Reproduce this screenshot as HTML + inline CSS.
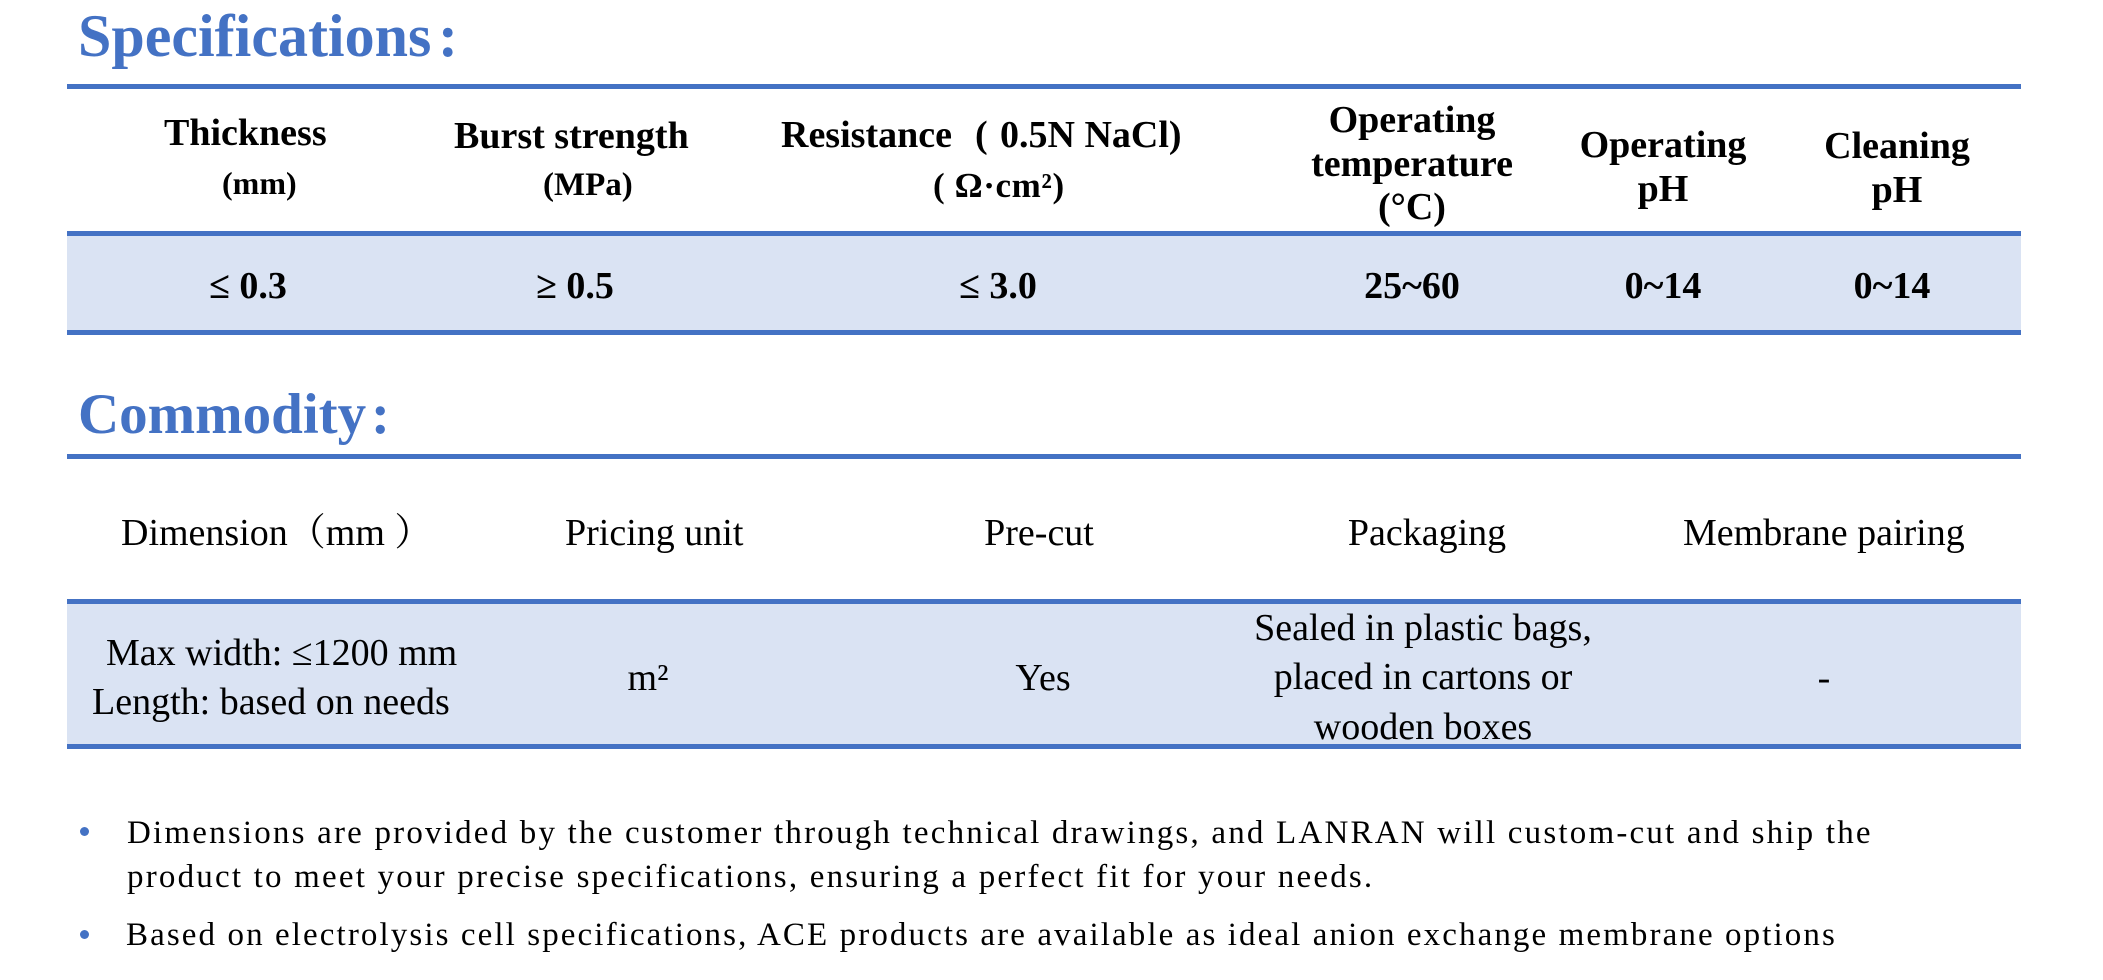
<!DOCTYPE html>
<html>
<head>
<meta charset="utf-8">
<style>
  html,body{margin:0;padding:0;background:#fff;}
  body{width:2103px;height:980px;position:relative;overflow:hidden;
       font-family:"Liberation Serif","Noto Serif CJK SC",serif;color:#000;}
  .t{position:absolute;white-space:nowrap;line-height:1;}
  .c{transform:translateX(-50%);text-align:center;}
  .b{font-weight:bold;}
  .h38{font-size:38px;}
  .line{position:absolute;left:67px;width:1954px;height:5px;background:#4472C4;}
  .bg{position:absolute;left:67px;width:1954px;background:#DAE3F3;}
  .title{font-weight:bold;color:#4472C4;}
  .ml{position:absolute;white-space:nowrap;text-align:center;transform:translateX(-50%);}
  .bul{position:absolute;width:9px;height:9px;border-radius:50%;background:#4472C4;}
  .p{font-size:33px;letter-spacing:2.2px;}
</style>
</head>
<body>

<!-- Specifications title -->
<div class="t title" style="left:78px;top:6px;font-size:60px;">Specifications</div>
<div class="t title" style="left:438px;top:6px;font-size:60px;">:</div>

<!-- Spec table -->
<div class="bg" style="top:236px;height:94px;"></div>
<div class="line" style="top:84px;"></div>
<div class="line" style="top:231px;"></div>
<div class="line" style="top:330px;height:5px;"></div>

<div class="t b h38" style="left:164px;top:114px;">Thickness</div>
<div class="t b" style="left:222px;top:167px;font-size:32px;">(mm)</div>

<div class="t b h38" style="left:454px;top:117px;">Burst strength</div>
<div class="t b" style="left:543px;top:168.5px;font-size:33px;">(MPa)</div>

<div class="t b h38" style="left:781px;top:116px;">Resistance</div>
<div class="t b h38" style="left:975px;top:116px;">(</div>
<div class="t b h38" style="left:1000px;top:116px;">0.5N NaCl)</div>
<div class="t b" style="left:933px;top:168px;font-size:35px;letter-spacing:0.6px;">( Ω·cm²)</div>

<div class="ml b h38" style="left:1412px;top:99px;line-height:43.5px;">Operating<br>temperature<br>(°C)</div>
<div class="ml b h38" style="left:1663px;top:124px;line-height:43.5px;">Operating<br>pH</div>
<div class="ml b h38" style="left:1897px;top:125px;line-height:43.5px;">Cleaning<br>pH</div>

<div class="t c b h38" style="left:248px;top:266.5px;">≤ 0.3</div>
<div class="t c b h38" style="left:575px;top:266.5px;">≥ 0.5</div>
<div class="t c b h38" style="left:998px;top:266.5px;">≤ 3.0</div>
<div class="t c b h38" style="left:1412px;top:266.5px;">25~60</div>
<div class="t c b h38" style="left:1663px;top:266.5px;">0~14</div>
<div class="t c b h38" style="left:1892px;top:266.5px;">0~14</div>

<!-- Commodity title -->
<div class="t title" style="left:78px;top:386px;font-size:57px;">Commodity</div>
<div class="t title" style="left:371px;top:386px;font-size:57px;">:</div>

<!-- Commodity table -->
<div class="bg" style="top:604px;height:140px;"></div>
<div class="line" style="top:454px;"></div>
<div class="line" style="top:599px;"></div>
<div class="line" style="top:744px;"></div>

<div class="t h38" style="left:121px;top:514px;">Dimension（mm ）</div>
<div class="t h38" style="left:565px;top:514px;">Pricing unit</div>
<div class="t c h38" style="left:1039px;top:514px;">Pre-cut</div>
<div class="t c h38" style="left:1427px;top:514px;">Packaging</div>
<div class="t h38" style="left:1683px;top:514px;">Membrane pairing</div>

<div class="t h38" style="left:106px;top:634px;">Max width: ≤1200 mm</div>
<div class="t h38" style="left:92px;top:683px;">Length: based on needs</div>
<div class="t c h38" style="left:648px;top:659px;">m²</div>
<div class="t c h38" style="left:1043px;top:659px;">Yes</div>
<div class="ml h38" style="left:1423px;top:603.5px;line-height:49.5px;">Sealed in plastic bags,<br>placed in cartons or<br>wooden boxes</div>
<div class="t c h38" style="left:1824px;top:659px;">-</div>

<!-- Bullets -->
<div class="bul" style="left:80px;top:827px;"></div>
<div class="t p" style="left:127px;top:817px;">Dimensions are provided by the customer through technical drawings, and LANRAN will custom-cut and ship the</div>
<div class="t p" style="left:127px;top:861px;">product to meet your precise specifications, ensuring a perfect fit for your needs.</div>
<div class="bul" style="left:80px;top:930px;"></div>
<div class="t p" style="left:126px;top:919px;letter-spacing:2.1px;">Based on electrolysis cell specifications, ACE products are available as ideal anion exchange membrane options</div>

</body>
</html>
